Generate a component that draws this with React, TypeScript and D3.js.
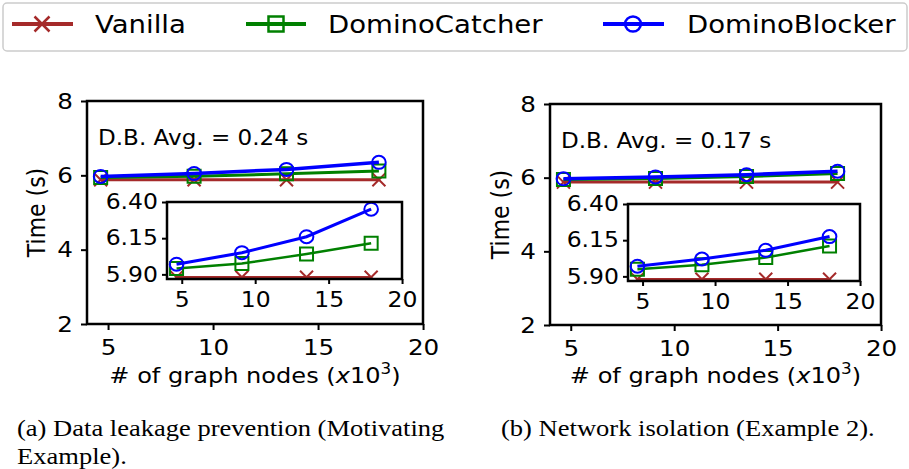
import * as d3 from 'd3';
import { useEffect, useRef } from 'react';

// the figure is a little wider than tall in its glyphs, so everything is drawn
// in a group scaled horizontally by SX
const SX = 1.12;
const FONT = "'DejaVu Sans', sans-serif";
const SERIF = "'Liberation Serif', 'Times New Roman', serif";

const series = ['Vanilla', 'DominoCatcher', 'DominoBlocker'];
const colors = ['#a52a2a', '#008000', '#0000ff'];
const markers = ['x', 'square', 'circle'];

// x10^3 graph nodes
const nodes = [4.65, 9.1, 13.5, 17.9];

// (a) data leakage prevention
const leakVanilla = [5.88, 5.88, 5.88, 5.88];
const leakCatcher = [5.94, 5.975, 6.04, 6.115];
const leakBlocker = [5.97, 6.05, 6.16, 6.35];

// (b) network isolation
const isoVanilla = [5.88, 5.88, 5.88, 5.88];
const isoCatcher = [5.95, 5.98, 6.03, 6.11];
const isoBlocker = [5.97, 6.02, 6.08, 6.175];

const mainYTicks = [2, 4, 6, 8];
const insetYTicks = [5.9, 6.15, 6.4];
const xTicks = [5, 10, 15, 20];
const avgLabels = ['D.B. Avg. = 0.24 s', 'D.B. Avg. = 0.17 s'];
const captions = [
    ['(a) Data leakage prevention (Motivating', 'Example).'],
    ['(b) Network isolation (Example 2).'],
];

// layout in page pixels
const panels = [
    {
        main: { x0: 87, x1: 423, y0: 101, y1: 324 },
        inset: { x0: 167, x1: 402, y0: 202, y1: 279 },
        avg: { x: 98, y: 145 },
        ylabelX: 45,
        captionX: 17,
        vals: [leakVanilla, leakCatcher, leakBlocker],
    },
    {
        main: { x0: 550, x1: 881, y0: 104, y1: 325 },
        inset: { x0: 628, x1: 860, y0: 204, y1: 281 },
        avg: { x: 561, y: 148 },
        ylabelX: 509,
        captionX: 501,
        vals: [isoVanilla, isoCatcher, isoBlocker],
    },
];

const drawMarker = (g, kind, cx, cy, size, color, sw) => {
    if (kind === 'x') {
        g.append('path')
            .attr('d', `M${cx - size / SX},${cy - size}L${cx + size / SX},${cy + size}M${cx - size / SX},${cy + size}L${cx + size / SX},${cy - size}`)
            .attr('stroke', color).attr('stroke-width', sw).attr('fill', 'none')
            .attr('vector-effect', 'non-scaling-stroke');
    } else if (kind === 'square') {
        g.append('rect')
            .attr('x', cx - size / SX).attr('y', cy - size)
            .attr('width', 2 * size / SX).attr('height', 2 * size)
            .attr('stroke', color).attr('stroke-width', sw).attr('fill', 'none')
            .attr('vector-effect', 'non-scaling-stroke');
    } else {
        g.append('ellipse')
            .attr('cx', cx).attr('cy', cy).attr('rx', size / SX * 1.05).attr('ry', size)
            .attr('stroke', color).attr('stroke-width', sw).attr('fill', 'none')
            .attr('vector-effect', 'non-scaling-stroke');
    }
};

const styleAxis = (ax, size) => {
    ax.select('.domain').remove();
    ax.attr('font-size', null).attr('font-family', null);
    ax.selectAll('line').attr('stroke', '#000').attr('stroke-width', 2)
        .attr('vector-effect', 'non-scaling-stroke');
    ax.selectAll('text').attr('font-size', size).attr('font-family', FONT).attr('fill', '#000');
};

const drawSeries = (g, x, y, vals, lw, msize) => {
    vals.forEach((v, s) => {
        const line = d3.line().x((d, i) => x(nodes[i])).y(d => y(d));
        g.append('path')
            .attr('d', line(v))
            .attr('fill', 'none')
            .attr('stroke', colors[s])
            .attr('stroke-width', s === 2 ? lw + 0.5 : lw)
            .attr('vector-effect', 'non-scaling-stroke');
        v.forEach((d, i) => drawMarker(g, markers[s], x(nodes[i]), y(d), msize, colors[s], 2));
    });
};

const drawPanel = (root, p, k) => {
    const g = root.append('g');
    const { main, inset } = p;

    // main axes
    const x = d3.scaleLinear().domain([4, 20]).range([main.x0 / SX, main.x1 / SX]);
    const y = d3.scaleLinear().domain([2, 8]).range([main.y1, main.y0]);

    const yAx = g.append('g')
        .attr('transform', `translate(${x.range()[0]},0)`)
        .call(d3.axisLeft(y).tickValues(mainYTicks).tickFormat(d3.format('d')).tickSize(6 / SX).tickPadding(8 / SX));
    styleAxis(yAx, 22);

    const xAx = g.append('g')
        .attr('transform', `translate(0,${main.y1})`)
        .call(d3.axisBottom(x).tickValues(xTicks).tickFormat(d3.format('d')).tickSize(6).tickPadding(9));
    styleAxis(xAx, 22);

    drawSeries(g, x, y, p.vals, 3, 6.5);

    g.append('rect')
        .attr('x', x.range()[0]).attr('y', main.y0)
        .attr('width', x.range()[1] - x.range()[0]).attr('height', main.y1 - main.y0)
        .attr('fill', 'none').attr('stroke', '#000').attr('stroke-width', 2.5)
        .attr('vector-effect', 'non-scaling-stroke');

    // annotation
    g.append('text')
        .attr('x', p.avg.x / SX).attr('y', p.avg.y)
        .attr('font-family', FONT).attr('font-size', 20.6)
        .text(avgLabels[k]);

    // axis labels
    g.append('text')
        .attr('transform', `translate(${p.ylabelX / SX},${(main.y0 + main.y1) / 2}) rotate(-90)`)
        .attr('text-anchor', 'middle')
        .attr('font-family', FONT).attr('font-size', 22)
        .text('Time (s)');

    const xl = g.append('text')
        .attr('x', (main.x0 + main.x1) / 2 / SX).attr('y', 383)
        .attr('text-anchor', 'middle')
        .attr('font-family', FONT).attr('font-size', 21.5);
    xl.append('tspan').text('# of graph nodes (');
    xl.append('tspan').attr('font-style', 'italic').text('x');
    xl.append('tspan').text('10');
    xl.append('tspan').attr('dy', -9).attr('font-size', 15).text('3');
    xl.append('tspan').attr('dy', 9).text(')');

    // inset zoom
    const ix = d3.scaleLinear().domain([4, 20]).range([inset.x0 / SX, inset.x1 / SX]);
    const iy = d3.scaleLinear().domain([5.868, 6.4]).range([inset.y1, inset.y0]);
    const ig = g.append('g');
    ig.append('rect')
        .attr('x', ix.range()[0]).attr('y', inset.y0)
        .attr('width', ix.range()[1] - ix.range()[0]).attr('height', inset.y1 - inset.y0)
        .attr('fill', '#fff');

    const clipId = `inset-clip-${k}`;
    ig.append('clipPath').attr('id', clipId)
        .append('rect')
        .attr('x', ix.range()[0]).attr('y', inset.y0)
        .attr('width', ix.range()[1] - ix.range()[0]).attr('height', inset.y1 - inset.y0);

    const iyAx = ig.append('g')
        .attr('transform', `translate(${ix.range()[0]},0)`)
        .call(d3.axisLeft(iy).tickValues(insetYTicks).tickFormat(d3.format('.2f')).tickSize(5 / SX).tickPadding(4 / SX));
    styleAxis(iyAx, 21);

    const ixAx = ig.append('g')
        .attr('transform', `translate(0,${inset.y1})`)
        .call(d3.axisBottom(ix).tickValues(xTicks).tickFormat(d3.format('d')).tickSize(5).tickPadding(8));
    styleAxis(ixAx, 21);

    const inner = ig.append('g').attr('clip-path', `url(#${clipId})`);
    drawSeries(inner, ix, iy, p.vals, 2.5, 6.5);

    ig.append('rect')
        .attr('x', ix.range()[0]).attr('y', inset.y0)
        .attr('width', ix.range()[1] - ix.range()[0]).attr('height', inset.y1 - inset.y0)
        .attr('fill', 'none').attr('stroke', '#000').attr('stroke-width', 2.5)
        .attr('vector-effect', 'non-scaling-stroke');

    // caption
    captions[k].forEach((c, i) => {
        g.append('text')
            .attr('x', p.captionX / SX).attr('y', 436 + i * 28)
            .attr('font-family', SERIF).attr('font-size', 23.7)
            .text(c);
    });
};

const legendItems = [
    { x0: 12, x1: 73, mx: 42, tx: 95 },
    { x0: 246, x1: 306, mx: 276, tx: 328 },
    { x0: 603, x1: 664, mx: 633, tx: 687 },
];

const drawLegend = (root) => {
    const g = root.append('g');
    g.append('rect')
        .attr('x', 3 / SX).attr('y', 3)
        .attr('width', 904 / SX).attr('height', 48)
        .attr('rx', 4 / SX).attr('ry', 4)
        .attr('fill', '#fff').attr('stroke', '#cccccc').attr('stroke-width', 1.5)
        .attr('vector-effect', 'non-scaling-stroke');

    series.forEach((name, s) => {
        const it = legendItems[s];
        g.append('line')
            .attr('x1', it.x0 / SX).attr('x2', it.x1 / SX).attr('y1', 24).attr('y2', 24)
            .attr('stroke', colors[s]).attr('stroke-width', 4)
            .attr('vector-effect', 'non-scaling-stroke');
        drawMarker(g, markers[s], it.mx / SX, 24, 7.5, colors[s], 2.5);
        g.append('text')
            .attr('x', it.tx / SX).attr('y', 33)
            .attr('font-family', FONT).attr('font-size', 24.6)
            .text(name);
    });
};

const App = () => {
    const ref = useRef(null);

    useEffect(() => {
        const svg = d3.select(ref.current);
        svg.selectAll('*').remove();
        svg.append('rect').attr('width', 909).attr('height', 469).attr('fill', '#fff');
        const root = svg.append('g').attr('transform', `scale(${SX},1)`);
        panels.forEach((p, k) => drawPanel(root, p, k));
        drawLegend(root);
    }, []);

    return (
        <svg
            ref={ref}
            width={909}
            height={469}
            style={{ position: 'absolute', left: 0, top: 0, display: 'block' }}
        />
    );
};

export default App;
